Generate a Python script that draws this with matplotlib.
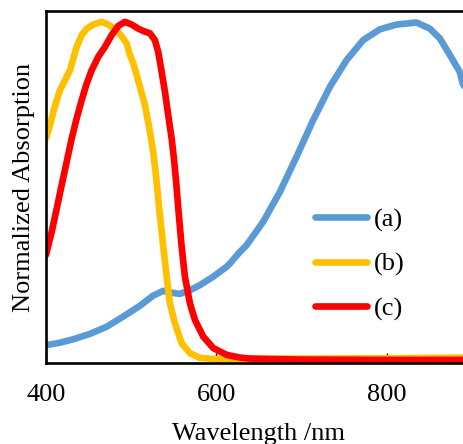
import numpy as np
import matplotlib.pyplot as plt

plt.rcParams["font.family"] = ["Liberation Serif", "DejaVu Serif"]

# (a) blue
wl_a = [400.8, 416.4, 432.0, 451.6, 471.2, 490.7, 510.3, 525.9, 537.7, 545.5, 557.3,
        569.0, 580.8, 596.4, 612.1, 616.0, 627.7, 635.6, 655.0, 674.6, 694.2, 713.7,
        733.3, 752.9, 772.4, 792.0, 811.6, 835.1, 850.7, 862.5, 874.2, 885.9, 889.4,
        896.0]
abs_a = [0.044, 0.051, 0.061, 0.077, 0.098, 0.128, 0.160, 0.190, 0.204, 0.199, 0.195,
         0.206, 0.221, 0.246, 0.275, 0.285, 0.319, 0.339, 0.408, 0.496, 0.600, 0.708,
         0.806, 0.885, 0.944, 0.976, 0.990, 0.996, 0.978, 0.949, 0.900, 0.850, 0.815,
         0.785]

# (b) yellow
wl_b = [400.0, 404.7, 408.6, 412.6, 416.4, 422.3, 428.2, 432.0, 436.0, 441.9, 447.8,
        455.5, 465.4, 473.1, 483.0, 490.7, 494.7, 498.6, 502.5, 506.5, 510.3, 516.2,
        522.1, 525.9, 529.5, 533.5, 537.7, 541.7, 545.5, 551.4, 559.3, 569.0, 580.8,
        596.0, 620.0, 700.0, 800.0, 900.0]
abs_b = [0.655, 0.693, 0.732, 0.767, 0.796, 0.826, 0.855, 0.890, 0.924, 0.959, 0.978,
         0.990, 0.998, 0.990, 0.973, 0.949, 0.934, 0.900, 0.875, 0.841, 0.806, 0.752,
         0.673, 0.614, 0.535, 0.433, 0.334, 0.246, 0.167, 0.108, 0.049, 0.020, 0.006,
         0.003, 0.003, 0.004, 0.005, 0.007]

# (c) red
wl_c = [400.0, 406.7, 412.6, 418.4, 424.3, 430.2, 436.0, 441.9, 447.8, 453.6, 461.4,
        469.2, 477.1, 484.9, 492.7, 500.6, 508.3, 514.2, 522.1, 527.9, 531.8, 535.8,
        539.7, 543.5, 547.5, 550.2, 553.0, 555.8, 559.3, 563.1, 569.0, 574.9, 584.6,
        596.4, 612.1, 627.7, 639.4, 700.0, 800.0, 900.0]
abs_c = [0.310, 0.378, 0.447, 0.516, 0.585, 0.654, 0.713, 0.767, 0.816, 0.855, 0.895,
         0.924, 0.959, 0.986, 0.998, 0.990, 0.978, 0.971, 0.964, 0.944, 0.909, 0.850,
         0.791, 0.723, 0.654, 0.595, 0.520, 0.433, 0.334, 0.246, 0.167, 0.118, 0.069,
         0.035, 0.015, 0.007, 0.004, 0.001, 0.0, 0.0]

labels = ["(a)", "(b)", "(c)"]
colors = ["#5B9BD5", "#FFC000", "#FF0000"]
x_ticks = [400, 600, 800]

fig = plt.figure(figsize=(4.63, 4.44), dpi=100)
# the original is cropped on the right, so the axes runs past the edge
ax = fig.add_axes([46 / 463, 81 / 444, 511 / 463, 352 / 444])
ax.set_axisbelow(True)

for wl, ab, lab, col in zip([wl_a, wl_b, wl_c], [abs_a, abs_b, abs_c], labels, colors):
    ax.plot(wl, ab, color=col, lw=4.8, label=lab, solid_capstyle="round",
            solid_joinstyle="round")

ax.set_xlim(400, 1000)
ax.set_ylim(-0.009, 1.03)
ax.set_xticks(x_ticks)
ax.set_yticks([])
ax.tick_params(axis="x", direction="in", length=7, width=1, pad=15, labelsize=19)
for s in ax.spines.values():
    s.set_linewidth(1.9)
    s.set_zorder(3)

ax.set_xlabel("Wavelength /nm", fontsize=19)
ax.xaxis.set_label_coords((259 - 46) / 511, -0.17)
ax.set_ylabel("Normalized Absorption", fontsize=19, labelpad=8.2)

ax.legend(loc="upper left", bbox_to_anchor=(315 / 463, 1 - 208 / 444),
          bbox_transform=fig.transFigure, frameon=False, fontsize=19,
          handlelength=1.98, handletextpad=0.25, labelspacing=0.78,
          borderpad=0, borderaxespad=0)

fig.savefig("out.png", dpi=100)
